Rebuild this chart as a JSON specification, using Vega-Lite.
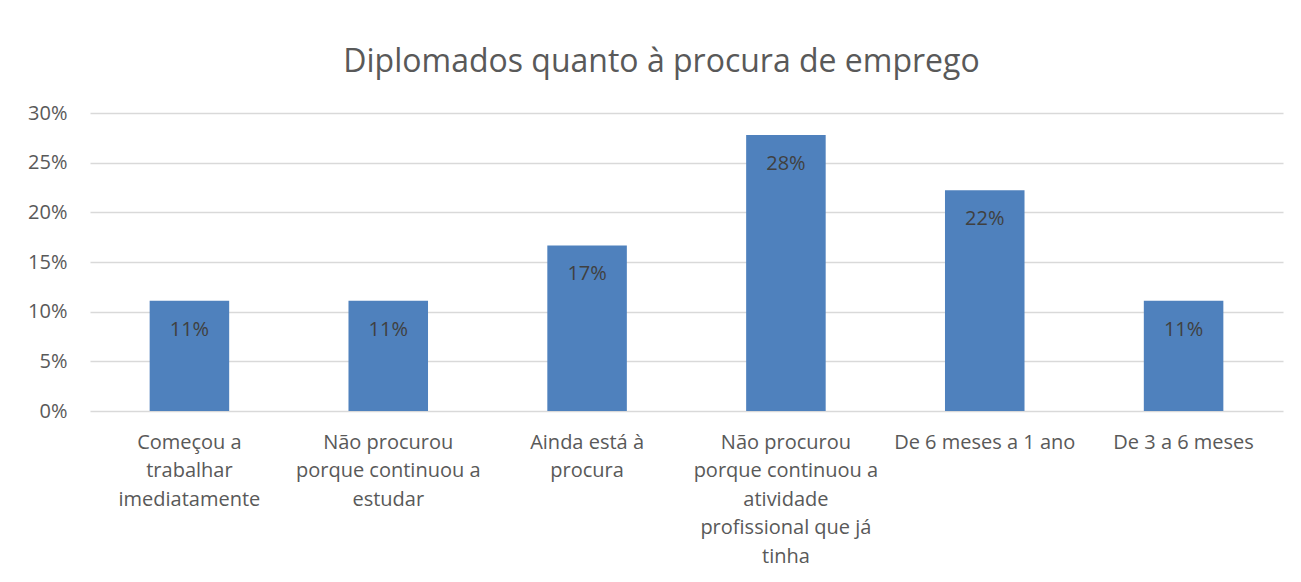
{
  "$schema": "https://vega.github.io/schema/vega-lite/v6.json",
  "width": 1193,
  "height": 298,
  "autosize": {"type": "none"},
  "padding": {"left": 90, "top": 113, "right": 18, "bottom": 171},
  "background": "white",
  "title": {
    "text": "Diplomados quanto à procura de emprego",
    "font": "Open Sans",
    "fontSize": 32,
    "fontWeight": "normal",
    "color": "#595959",
    "anchor": "middle",
    "dx": -25,
    "baseline": "alphabetic",
    "offset": -1
  },
  "data": {
    "values": [
      {"categoria": "Começou a trabalhar imediatamente", "valor": 0.1111},
      {"categoria": "Não procurou porque continuou a estudar", "valor": 0.1111},
      {"categoria": "Ainda está à procura", "valor": 0.1667},
      {"categoria": "Não procurou porque continuou a atividade profissional que já tinha", "valor": 0.2778},
      {"categoria": "De 6 meses a 1 ano", "valor": 0.2222},
      {"categoria": "De 3 a 6 meses", "valor": 0.1111}
    ]
  },
  "encoding": {
    "x": {
      "field": "categoria",
      "type": "nominal",
      "sort": null,
      "scale": {"paddingInner": 0.6, "paddingOuter": 0.3},
      "axis": {
        "title": null,
        "labelAngle": 0,
        "labelFont": "Open Sans",
        "labelFontSize": 20,
        "labelColor": "#595959",
        "labelLineHeight": 28.5,
        "labelPadding": 21,
        "labelLimit": 0,
        "ticks": false,
        "domain": false,
        "labelBaseline": "top",
        "labelExpr": "datum.value == 'Começou a trabalhar imediatamente' ? ['Começou a','trabalhar','imediatamente'] : datum.value == 'Não procurou porque continuou a estudar' ? ['Não procurou','porque continuou a','estudar'] : datum.value == 'Ainda está à procura' ? ['Ainda está à','procura'] : datum.value == 'Não procurou porque continuou a atividade profissional que já tinha' ? ['Não procurou','porque continuou a','atividade','profissional que já','tinha'] : datum.value"
      }
    },
    "y": {
      "field": "valor",
      "type": "quantitative",
      "scale": {"domain": [0, 0.3], "nice": false},
      "axis": {
        "title": null,
        "format": ".0%",
        "values": [0, 0.05, 0.1, 0.15, 0.2, 0.25, 0.3],
        "labelFont": "Open Sans",
        "labelFontSize": 20,
        "labelColor": "#595959",
        "labelPadding": 23,
        "ticks": false,
        "domain": false,
        "grid": true,
        "gridColor": "#d9d9d9",
        "gridWidth": 1.5
      }
    }
  },
  "layer": [
    {"mark": {"type": "bar", "color": "#4f81bd"}},
    {
      "mark": {
        "type": "text",
        "baseline": "middle",
        "dy": 29,
        "font": "Open Sans",
        "fontSize": 20,
        "color": "#404040"
      },
      "encoding": {"text": {"field": "valor", "format": ".0%"}}
    }
  ],
  "config": {"view": {"stroke": null}}
}
